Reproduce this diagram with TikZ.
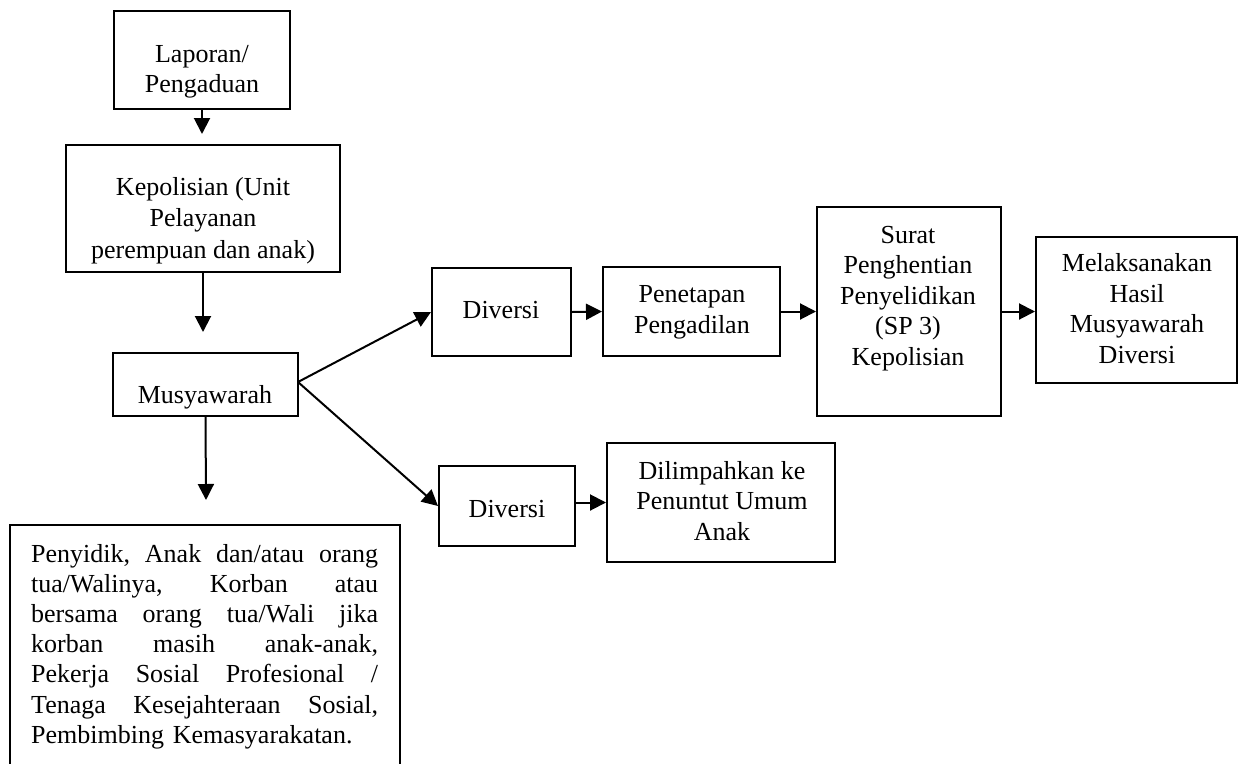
\documentclass[tikz,border=0pt]{standalone}
\usepackage{fontspec}
\setmainfont{Liberation Serif}
\usetikzlibrary{arrows.meta}
\tikzset{
  box/.style={draw=black, line width=2pt, inner sep=0pt, rectangle},
  txt/.style={inner sep=0pt, align=center, font=\fontsize{26}{30.5}\selectfont},
  arr/.style={line width=2pt, -{Triangle[length=16pt,width=16pt]}},
}
\newcommand{\jline}[1]{\leavevmode\hbox to 347pt{#1}}
\begin{document}
\begin{tikzpicture}[x=1pt,y=-1pt]
\fill[white] (0,0) rectangle (1239,763);
\useasboundingbox (0,0) rectangle (1239,763);
\begin{scope}
\clip (0,0) rectangle (1239,763);
% boxes
\node[box, minimum width=176pt, minimum height=98pt] (lap) at (202,60) {};
\node[box, minimum width=274pt, minimum height=127pt] (kep) at (203,208.5) {};
\node[box, minimum width=185pt, minimum height=63pt] (mus) at (205.5,384.5) {};
\node[box, minimum width=390pt, minimum height=280pt] (bot) at (205,665) {};
\node[box, minimum width=139pt, minimum height=88pt] (div1) at (501.5,312) {};
\node[box, minimum width=177pt, minimum height=89pt] (pen) at (691.5,311.5) {};
\node[box, minimum width=184pt, minimum height=209pt] (sur) at (909,311.5) {};
\node[box, minimum width=201pt, minimum height=146pt] (mel) at (1136.5,310) {};
\node[box, minimum width=136pt, minimum height=80pt] (div2) at (507,506) {};
\node[box, minimum width=228pt, minimum height=119pt] (dil) at (721,502.5) {};
% texts (base anchor = baseline of the last line)
\node[txt, anchor=base] (lapT) at (202,92.7) {Laporan/\\Pengaduan};
\node[txt, anchor=base, font=\fontsize{26}{31.5}\selectfont] (kepT) at (203,258) {Kepolisian (Unit\\Pelayanan\\perempuan dan anak)};
\node[txt, anchor=base] (musT) at (205,403) {Musyawarah};
\node[txt, anchor=base] (div1T) at (501,318) {Diversi};
\node[txt, anchor=base] (penT) at (692,333) {Penetapan\\Pengadilan};
\node[txt, anchor=base] (surT) at (908,365) {Surat\\Penghentian\\Penyelidikan\\(SP 3)\\Kepolisian};
\node[txt, anchor=base] (melT) at (1137,363) {Melaksanakan\\Hasil\\Musyawarah\\Diversi};
\node[txt, anchor=base] (div2T) at (507,517) {Diversi};
\node[txt, anchor=base] (dilT) at (722,540) {Dilimpahkan ke\\Penuntut Umum\\Anak};
\node[txt, anchor=base west, align=left, text width=347pt, font=\fontsize{26}{30.2}\selectfont] (botT) at (31,562) {%
\jline{Penyidik,\hfill Anak\hfill dan/atau\hfill orang}\\
\jline{tua/Walinya,\hfill Korban\hfill atau}\\
\jline{bersama\hfill orang\hfill tua/Wali\hfill jika}\\
\jline{korban\hfill masih\hfill anak-anak,}\\
\jline{Pekerja\hfill Sosial\hfill Profesional\hfill /}\\
\jline{Tenaga\hfill Kesejahteraan\hfill Sosial,}\\
Pembimbing Kemasyarakatan.};
\end{scope}
% connectors
\coordinate (musEnd) at (206,500);
\coordinate (fork) at (298,382);
\draw[arr, shorten >=10pt] (lap.south) -- (lap.south |- kep.north);
\draw[arr, shorten >=20pt] (kep.south) -- (kep.south |- mus.north);
\draw[arr] (mus.south) -- (musEnd);
\draw[arr] (fork) -- (div1.west);
\draw[arr] (fork) -- (div2.west);
\draw[arr] (div1.east) -- (pen.west);
\draw[arr] (pen.east) -- (sur.west);
\draw[arr] (sur.east) -- (sur.east -| mel.west);
\draw[arr] (dil.west -| div2.east) -- (dil.west);
\end{tikzpicture}
\end{document}
